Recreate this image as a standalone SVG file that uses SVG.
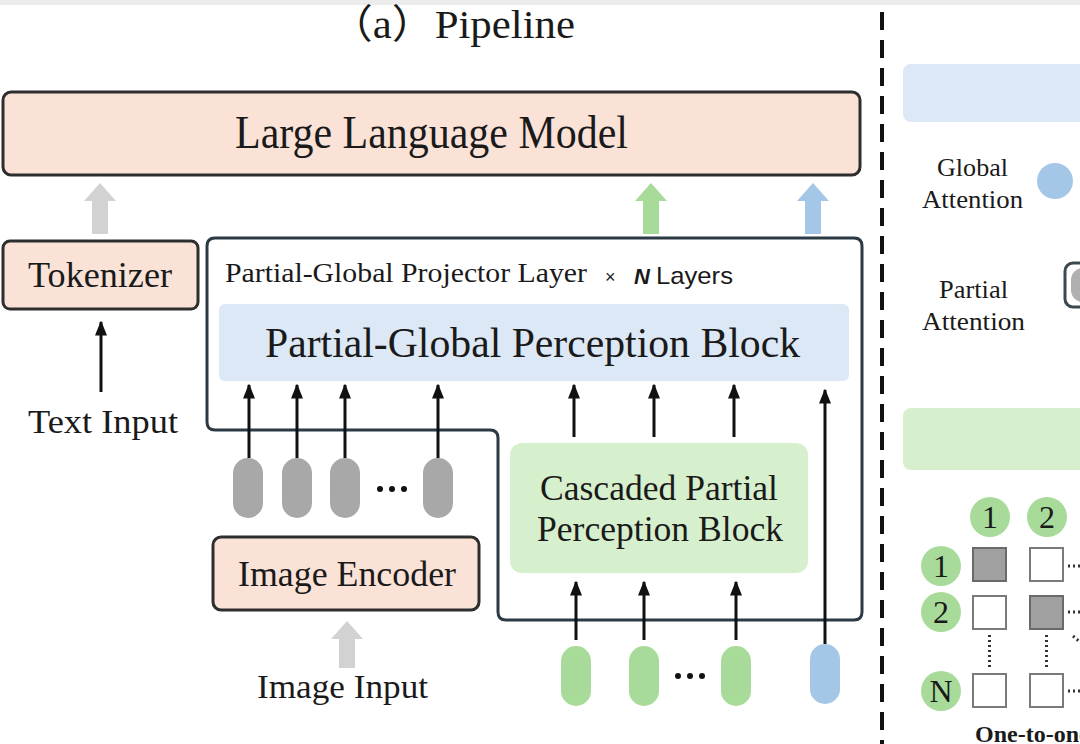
<svg xmlns="http://www.w3.org/2000/svg" width="1080" height="744" viewBox="0 0 1080 744">
<defs>
<style>
.serif{font-family:"Liberation Serif","Times New Roman","Noto Sans CJK SC",serif;fill:#1a1a1a}
.sans{font-family:"Liberation Sans",Arial,sans-serif;fill:#1a1a1a}
.salmon{fill:#fbe2d7;stroke:#2e2e2e;stroke-width:3}
.blk{stroke:#111;stroke-width:3;fill:none}
.gpill{fill:#a8a8a8}
.grpill{fill:#a8db99}
.blpill{fill:#a5c7e7}
.sq{fill:#fff;stroke:#7a7a7a;stroke-width:2}
.sqf{fill:#a0a0a0;stroke:#6a6a6a;stroke-width:2}
.gc{fill:#a8db99}
.dots{fill:#111}
</style>
<marker id="ah" viewBox="0 0 10 10" refX="9" refY="5" markerWidth="5" markerHeight="5" orient="auto" markerUnits="strokeWidth">
<path d="M0,1 L10,5 L0,9 z" fill="#111"/>
</marker>
</defs>
<rect x="0" y="0" width="1080" height="744" fill="#fff"/>
<rect x="0" y="0" width="1080" height="5" fill="#ececec"/>

<text class="serif" x="330" y="38" font-size="40" textLength="245" lengthAdjust="spacingAndGlyphs">（a）Pipeline</text>

<g id="llm">
<rect class="salmon" x="3" y="92" width="857" height="83" rx="8"/>
<text class="serif" x="235" y="148" font-size="46" textLength="393" lengthAdjust="spacingAndGlyphs">Large Language Model</text>
</g>

<g id="tokenizer">
<rect class="salmon" x="3" y="241" width="195" height="68" rx="7"/>
<text class="serif" x="28" y="287" font-size="36" textLength="144" lengthAdjust="spacingAndGlyphs">Tokenizer</text>
</g>
<text class="serif" x="28" y="433" font-size="34" textLength="150" lengthAdjust="spacingAndGlyphs">Text Input</text>

<g id="projector-layer">
<path d="M215,238 H854 Q862,238 862,246 V612 Q862,620 854,620 H506 Q498,620 498,612 V438 Q498,430 490,430 H215 Q207,430 207,422 V246 Q207,238 215,238 Z" fill="none" stroke="#2b3a44" stroke-width="3"/>
<text class="serif" x="225" y="282" font-size="28" textLength="362" lengthAdjust="spacingAndGlyphs">Partial-Global Projector Layer</text>
<text class="sans" x="605" y="283" font-size="18" fill="#444">×</text>
<text class="sans" x="634" y="284" font-size="22" font-style="italic" font-weight="bold">N</text>
<text class="sans" x="656" y="284" font-size="24" textLength="77" lengthAdjust="spacingAndGlyphs">Layers</text>
</g>

<g id="perception-block">
<rect x="219" y="304" width="630" height="77" rx="6" fill="#dce8f5"/>
<text class="serif" x="265" y="357" font-size="42" textLength="535" lengthAdjust="spacingAndGlyphs">Partial-Global Perception Block</text>
</g>

<g id="cppb">
<rect x="510" y="443" width="298" height="130" rx="12" fill="#d6efcd"/>
<text class="serif" x="540" y="500" font-size="36" textLength="238" lengthAdjust="spacingAndGlyphs">Cascaded Partial</text>
<text class="serif" x="537" y="541" font-size="36" textLength="246" lengthAdjust="spacingAndGlyphs">Perception Block</text>
</g>

<g id="image-encoder">
<rect class="salmon" x="213" y="537" width="266" height="73" rx="8"/>
<text class="serif" x="238" y="586" font-size="35" textLength="218" lengthAdjust="spacingAndGlyphs">Image Encoder</text>
</g>
<text class="serif" x="257" y="698" font-size="34" textLength="171" lengthAdjust="spacingAndGlyphs">Image Input</text>

<g id="image-tokens">
<rect class="gpill" x="233" y="458" width="30" height="60" rx="15"/>
<rect class="gpill" x="282" y="458" width="30" height="60" rx="15"/>
<rect class="gpill" x="330" y="458" width="30" height="60" rx="15"/>
<rect class="gpill" x="423" y="458" width="30" height="60" rx="15"/>
<circle class="dots" cx="380" cy="489" r="3"/>
<circle class="dots" cx="392" cy="489" r="3"/>
<circle class="dots" cx="404" cy="489" r="3"/>
</g>

<g id="partial-tokens">
<rect class="grpill" x="561" y="646" width="30" height="60" rx="15"/>
<rect class="grpill" x="629" y="646" width="30" height="60" rx="15"/>
<rect class="grpill" x="721" y="646" width="30" height="60" rx="15"/>
<circle class="dots" cx="678" cy="676" r="3"/>
<circle class="dots" cx="690" cy="676" r="3"/>
<circle class="dots" cx="702" cy="676" r="3"/>
</g>
<g id="global-token">
<rect class="blpill" x="810" y="644" width="30" height="60" rx="15"/>
</g>

<g id="connectors">
<path d="M92,234 V201 H84 L100,183 L116,201 H108 V234 Z" fill="#d2d2d2"/>
<path d="M643,234 V201 H635 L651,183 L667,201 H659 V234 Z" fill="#a8db99"/>
<path d="M805,234 V201 H797 L813,183 L829,201 H821 V234 Z" fill="#a5c7e7"/>
<path d="M339,668 V639 H331 L347,621 L363,639 H355 V668 Z" fill="#d2d2d2"/>
<line class="blk" x1="101" y1="392" x2="101" y2="322" marker-end="url(#ah)"/>
<line class="blk" x1="249" y1="458" x2="249" y2="385" marker-end="url(#ah)"/>
<line class="blk" x1="297" y1="458" x2="297" y2="385" marker-end="url(#ah)"/>
<line class="blk" x1="345" y1="458" x2="345" y2="385" marker-end="url(#ah)"/>
<line class="blk" x1="438" y1="458" x2="438" y2="385" marker-end="url(#ah)"/>
<line class="blk" x1="574" y1="437" x2="574" y2="385" marker-end="url(#ah)"/>
<line class="blk" x1="654" y1="437" x2="654" y2="385" marker-end="url(#ah)"/>
<line class="blk" x1="734" y1="437" x2="734" y2="385" marker-end="url(#ah)"/>
<line class="blk" x1="576" y1="640" x2="576" y2="582" marker-end="url(#ah)"/>
<line class="blk" x1="644" y1="640" x2="644" y2="582" marker-end="url(#ah)"/>
<line class="blk" x1="736" y1="640" x2="736" y2="582" marker-end="url(#ah)"/>
<line class="blk" x1="825" y1="644" x2="825" y2="390" marker-end="url(#ah)"/>
</g>

<line x1="882" y1="12" x2="882" y2="744" stroke="#111" stroke-width="4" stroke-dasharray="18,10"/>

<g id="global-panel">
<rect x="903" y="64" width="190" height="58" rx="8" fill="#dce8f5"/>
<text class="serif" x="937" y="176" font-size="25" textLength="71" lengthAdjust="spacingAndGlyphs">Global</text>
<text class="serif" x="922" y="208" font-size="25" textLength="101" lengthAdjust="spacingAndGlyphs">Attention</text>
<circle cx="1055" cy="181" r="18" fill="#a5c7e7"/>
<text class="serif" x="939" y="298" font-size="25" textLength="69" lengthAdjust="spacingAndGlyphs">Partial</text>
<text class="serif" x="922" y="330" font-size="25" textLength="103" lengthAdjust="spacingAndGlyphs">Attention</text>
<rect x="1065" y="263" width="40" height="44" rx="8" fill="#fff" stroke="#3c4a50" stroke-width="3"/>
<rect x="1071" y="268" width="26" height="34" rx="12" fill="#b0b0b0"/>
</g>

<g id="partial-panel">
<rect x="903" y="408" width="190" height="62" rx="8" fill="#d6efcd"/>
<circle class="gc" cx="990" cy="517" r="20"/>
<circle class="gc" cx="1047" cy="517" r="20"/>
<circle class="gc" cx="941" cy="566" r="20"/>
<circle class="gc" cx="941" cy="612" r="20"/>
<circle class="gc" cx="941" cy="691" r="20"/>
<text class="serif" x="990" y="528" font-size="32" text-anchor="middle">1</text>
<text class="serif" x="1047" y="528" font-size="32" text-anchor="middle">2</text>
<text class="serif" x="941" y="577" font-size="32" text-anchor="middle">1</text>
<text class="serif" x="941" y="623" font-size="32" text-anchor="middle">2</text>
<text class="serif" x="941" y="702" font-size="32" text-anchor="middle">N</text>
<rect class="sqf" x="973" y="548" width="33" height="33"/>
<rect class="sq" x="1030" y="548" width="33" height="33"/>
<rect class="sq" x="973" y="596" width="33" height="33"/>
<rect class="sqf" x="1030" y="596" width="33" height="33"/>
<rect class="sq" x="973" y="674" width="33" height="33"/>
<rect class="sq" x="1030" y="674" width="33" height="33"/>
<line x1="989.5" y1="635" x2="989.5" y2="670" stroke="#333" stroke-width="3" stroke-dasharray="2,3"/>
<line x1="1046.5" y1="635" x2="1046.5" y2="670" stroke="#333" stroke-width="3" stroke-dasharray="2,3"/>
<line x1="1068" y1="566" x2="1080" y2="566" stroke="#333" stroke-width="3" stroke-dasharray="2,3"/>
<line x1="1068" y1="612" x2="1080" y2="612" stroke="#333" stroke-width="3" stroke-dasharray="2,3"/>
<line x1="1068" y1="691" x2="1080" y2="691" stroke="#333" stroke-width="3" stroke-dasharray="2,3"/>
<line x1="1073" y1="636" x2="1080" y2="642" stroke="#333" stroke-width="3" stroke-dasharray="2,3"/>
<text class="serif" x="975" y="742" font-size="24" font-weight="bold">One-to-one</text>
</g>
</svg>
